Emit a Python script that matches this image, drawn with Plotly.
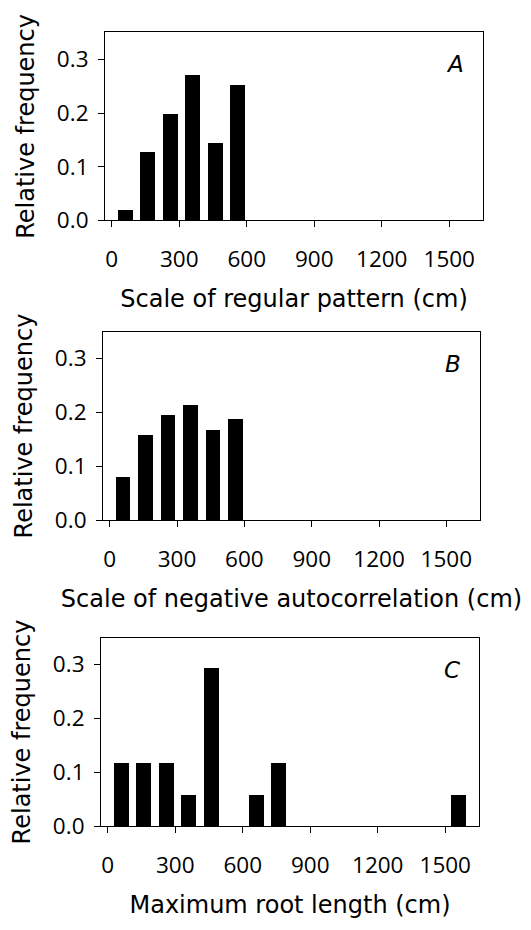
import plotly.graph_objects as go

# Bin centres (cm) and relative frequencies for the three histograms
bins_a = [60, 160, 260, 360, 460, 560]
freq_a = [0.018, 0.126, 0.198, 0.269, 0.144, 0.251]

bins_b = [60, 160, 260, 360, 460, 560]
freq_b = [0.081, 0.160, 0.197, 0.215, 0.169, 0.188]

bins_c = [60, 160, 260, 360, 460, 660, 760, 1560]
freq_c = [0.118, 0.118, 0.118, 0.059, 0.294, 0.059, 0.118, 0.059]

x_ticks = [0, 300, 600, 900, 1200, 1500]
y_ticks = [0.0, 0.1, 0.2, 0.3]
y_tick_text = ["0.0", "0.1", "0.2", "0.3"]

panel_letters = ["A", "B", "C"]
x_titles = [
    "Scale of regular pattern (cm)",
    "Scale of negative autocorrelation (cm)",
    "Maximum root length (cm)",
]
y_title = "Relative frequency"

TICK_FONT = dict(family="Open Sans", size=22.5, color="black")
TITLE_FONT = "DejaVu Sans"
W, H = 531, 930

# Plot-area boxes in pixels: (left, right, top, bottom)
boxes = [
    (105, 483, 33, 224),
    (103, 480, 337, 529),
    (101, 479, 648, 840),
]

fig = go.Figure()
series = [(bins_a, freq_a), (bins_b, freq_b), (bins_c, freq_c)]

for i, ((xs, ys), (l, r, t, b)) in enumerate(zip(series, boxes)):
    n = "" if i == 0 else str(i + 1)
    fig.add_trace(go.Bar(
        x=xs, y=ys, width=65,
        marker=dict(color="black", line=dict(width=0)),
        xaxis="x" + n, yaxis="y" + n, showlegend=False,
    ))
    axis_common = dict(
        showline=True, linecolor="black", linewidth=1, mirror=True,
        ticks="outside", ticklen=6, tickcolor="black", tickwidth=1,
        showgrid=False, zeroline=False,
        tickfont=TICK_FONT,
    )
    fig.layout["xaxis" + n] = dict(
        axis_common,
        domain=[l / W, r / W], anchor="y" + n,
        range=[-30, 1650], tickvals=x_ticks,
        ticklabelstandoff=13,
        title=dict(text=x_titles[i], font=dict(family=TITLE_FONT, size=24, color="black"),
                   standoff=16),
    )
    fig.layout["yaxis" + n] = dict(
        axis_common,
        domain=[1 - b / H, 1 - t / H], anchor="x" + n,
        range=[0, 0.35], tickvals=y_ticks, ticktext=y_tick_text,
        ticklabelstandoff=5,
        title=dict(text=y_title, font=dict(family=TITLE_FONT, size=24, color="black"),
                   standoff=15),
    )
    fig.add_annotation(
        text="<i>" + panel_letters[i] + "</i>",
        xref="x" + n + " domain", yref="y" + n + " domain",
        x=0.955, y=0.83, xanchor="right", yanchor="middle",
        showarrow=False, font=dict(family=TITLE_FONT, size=23, color="black"),
    )

fig.update_layout(
    width=W, height=H,
    margin=dict(l=0, r=0, t=0, b=0),
    paper_bgcolor="white", plot_bgcolor="white",
    bargap=0,
)

fig.write_html("out.html")
